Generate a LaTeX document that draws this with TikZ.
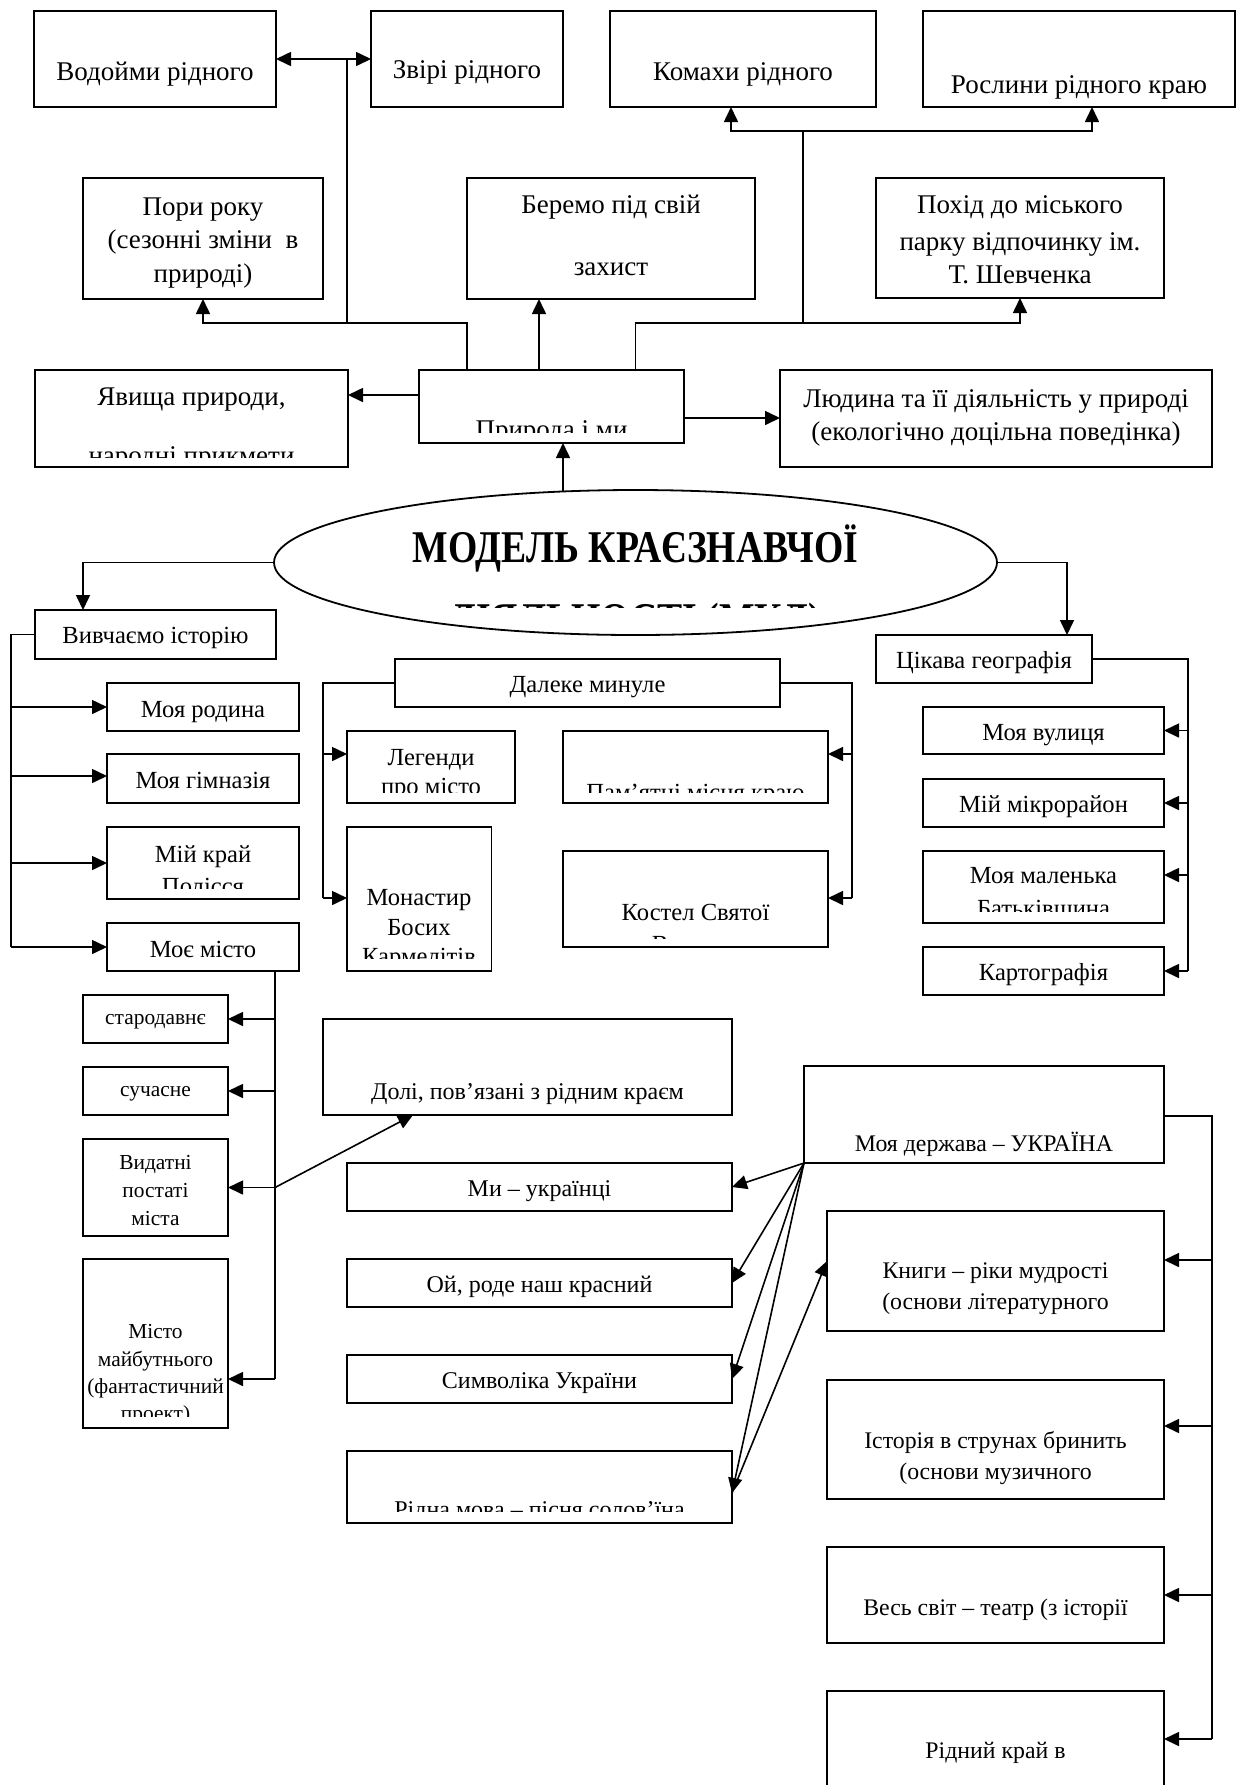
\documentclass[tikz,border=0pt]{standalone}
\usepackage{fontspec}
\usepackage{graphicx}
\setmainfont{Liberation Serif}
\usetikzlibrary{arrows.meta,shapes.geometric}
\newcommand\bx[5]{\node[box, minimum width={(#4-#2)*0.5pt}, minimum height={(#5-#3)*0.5pt}] (#1) at ({(#2+#4)/2},{(#3+#5)/2}) {};}
\newcommand\tx[5]{\node[#1] (#2) at (#3,#4) {#5};}
\newcommand\tcx[6]{\begin{scope}\clip ({#3-420},{#4-80}) rectangle ({#3+420},#5);\node[#1] (#2) at (#3,#4) {#6};\end{scope}}
\begin{document}
\begin{tikzpicture}[x=0.5pt,y=-0.5pt,
 box/.style={draw, line width=0.9pt, inner sep=0pt, outer sep=0pt},
 ln/.style={line width=0.8pt},
 arr/.style={ln,-{Triangle[length=7.5pt,width=7pt]}},
 darr/.style={ln,{Triangle[length=7.5pt,width=7pt]}-{Triangle[length=7.5pt,width=7pt]}},
 tt/.style={inner sep=0pt, anchor=base},
 fa/.style={tt, font=\fontsize{13.5}{16}\selectfont},
 fb/.style={tt, font=\fontsize{12.3}{15}\selectfont},
 fc/.style={tt, font=\fontsize{12}{14}\selectfont},
 fd/.style={tt, font=\fontsize{10.7}{13}\selectfont},
 fe/.style={tt, font=\fontsize{11.9}{14}\selectfont},
 ttl/.style={tt, font=\bfseries\fontsize{22.7}{27}\selectfont},
]
\fill[white] (0,0) rectangle (1240,1785);
\useasboundingbox (0,0) rectangle (1240,1785);
\clip (0,0) rectangle (1240,1785);

% ---------- boxes ----------
\bx{vod}{34}{11}{276}{107}
\bx{zvir}{371}{11}{563}{107}
\bx{kom}{610}{11}{876}{107}
\bx{rosl}{923}{11}{1235}{107}
\bx{pori}{83}{178}{323}{299}
\bx{ber}{467}{178}{755}{299}
\bx{poh}{876}{178}{1164}{298}
\bx{yav}{35}{370}{348}{467}
\bx{prm}{419}{370}{684}{443}
\bx{lud}{780}{370}{1212}{467}
\node[draw, ellipse, line width=0.9pt, inner sep=0pt, outer sep=0pt, minimum width=361.5pt, minimum height=72.5pt] (ell) at (635.5,562.5) {};
\bx{viv}{35}{610}{276}{659}
\bx{rod}{107}{683}{299}{731}
\bx{gim}{107}{754}{299}{803}
\bx{kray}{107}{827}{299}{899}
\bx{misto}{107}{923}{299}{971}
\bx{dal}{395}{659}{780}{707}
\bx{leg}{347}{731}{515}{803}
\bx{mon}{347}{827}{491.5}{971}
\bx{pam}{563}{731}{828}{803}
\bx{kos}{563}{851}{828}{947}
\bx{cik}{876}{635}{1092}{683}
\bx{vul}{923}{707}{1164}{754}
\bx{mikr}{923}{779}{1164}{827}
\bx{mal}{923}{851}{1164}{923}
\bx{kart}{923}{947}{1164}{995}
\bx{star}{83}{995}{228}{1043}
\bx{such}{83}{1067}{228}{1115}
\bx{vyd}{83}{1139}{228}{1236}
\bx{mayb}{83}{1259}{228}{1428}
\bx{doli}{323}{1019}{732}{1115}
\bx{mu}{347}{1163}{732}{1211}
\bx{oy}{347}{1259}{732}{1307}
\bx{sym}{347}{1355}{732}{1403}
\bx{ridm}{347}{1451}{732}{1523}
\bx{md}{804}{1066}{1164}{1163}
\bx{kny}{827}{1211}{1164}{1331}
\bx{ist}{827}{1380}{1164}{1499}
\bx{ves}{827}{1547}{1164}{1643}
\bx{ridk}{827}{1691}{1164}{1810}

% ---------- texts ----------
\tx{fa}{vod-t}{155}{80}{Водойми рідного}
\tx{fa}{zvir-t}{467}{78.5}{Звірі рідного}
\tx{fa}{kom-t}{743}{80}{Комахи рідного}
\tx{fa}{rosl-t}{1079}{93}{Рослини рідного краю}
\tx{fa}{pori-t1}{203}{215}{Пори року}
\tx{fa}{pori-t2}{203}{248}{(сезонні зміни\ \ в}
\tx{fa}{pori-t3}{203}{282}{природі)}
\tx{fa}{ber-t1}{611}{213}{Беремо під свій}
\tx{fa}{ber-t2}{611}{275}{захист}
\tx{fa}{poh-t1}{1020}{213}{Похід до міського}
\tx{fa}{poh-t2}{1020}{250}{парку відпочинку ім.}
\tx{fa}{poh-t3}{1020}{283}{Т. Шевченка}
\tx{fa}{yav-t1}{191.5}{405}{Явища природи,}
\tcx{fa}{yav-t2}{191.5}{464.5}{457}{народні прикмети}
\tcx{fa}{prm-t}{551.5}{438}{432.5}{Природа і ми}
\tx{fa}{lud-t1}{996}{407}{Людина та її діяльність у природі}
\tx{fa}{lud-t2}{996}{440}{(екологічно доцільна поведінка)}

\tx{ttl}{ell-t1}{635.5}{562}{\scalebox{0.83}[1]{МОДЕЛЬ КРАЄЗНАВЧОЇ}}
\tcx{ttl}{ell-t2}{635.5}{634}{607.5}{\scalebox{0.83}[1]{ДІЯЛЬНОСТІ (МКД)}}

\tx{fb}{viv-t}{155.5}{643}{Вивчаємо історію}
\tx{fb}{rod-t}{203}{717}{Моя родина}
\tx{fb}{gim-t}{203}{788}{Моя гімназія}
\tx{fb}{kray-t1}{203}{862}{Мій край}
\tcx{fb}{kray-t2}{203}{894.5}{888}{Полісся}
\tx{fb}{misto-t}{203}{957}{Моє місто}
\tx{fb}{dal-t}{587.5}{692}{Далеке минуле}
\tx{fb}{leg-t1}{431}{765}{Легенди}
\tcx{fb}{leg-t2}{431}{794}{792}{про місто}
\tx{fb}{mon-t1}{419}{905}{Монастир}
\tx{fb}{mon-t2}{419}{935}{Босих}
\tcx{fb}{mon-t3}{419}{964}{958}{Кармелітів}
\tcx{fb}{pam-t}{695.5}{800}{792}{Пам’ятні місця краю}
\tx{fb}{kos-t1}{695.5}{920}{Костел Святої}
\tcx{fb}{kos-t2}{695.5}{952}{938.5}{Варвари}
\tx{fb}{cik-t}{984}{668}{Цікава географія}
\tx{fb}{vul-t}{1043.5}{740}{Моя вулиця}
\tx{fb}{mikr-t}{1043.5}{812}{Мій мікрорайон}
\tx{fb}{mal-t1}{1043.5}{883}{Моя маленька}
\tcx{fb}{mal-t2}{1043.5}{916.5}{911.5}{Батьківщина}
\tx{fb}{kart-t}{1043.5}{980}{Картографія}

\tx{fd}{star-t}{155.5}{1024}{стародавнє}
\tx{fd}{such-t}{155.5}{1096}{сучасне}
\tx{fd}{vyd-t1}{155.5}{1169}{Видатні}
\tx{fd}{vyd-t2}{155.5}{1197}{постаті}
\tx{fd}{vyd-t3}{155.5}{1225}{міста}
\tx{fd}{mayb-t1}{155.5}{1338}{Місто}
\tx{fd}{mayb-t2}{155.5}{1366}{майбутнього}
\tx{fd}{mayb-t3}{155.5}{1393}{(фантастичний}
\tcx{fd}{mayb-t4}{155.5}{1420}{1416.7}{проект)}

\tx{fc}{doli-t}{527.5}{1099}{Долі, пов’язані з рідним краєм}
\tx{fc}{mu-t}{539.5}{1196.5}{Ми – українці}
\tx{fc}{oy-t}{539.5}{1292}{Ой, роде наш красний}
\tx{fc}{sym-t}{539.5}{1388}{Символіка України}
\tcx{fc}{ridm-t}{539.5}{1517}{1511.7}{Рідна мова – пісня солов’їна}

\tx{fe}{md-t}{984}{1151}{Моя держава – УКРАЇНА}
\tx{fe}{kny-t1}{995.5}{1278}{Книги – ріки мудрості}
\tx{fe}{kny-t2}{995.5}{1309}{(основи літературного}
\tx{fe}{ist-t1}{995.5}{1448}{Історія в струнах бринить}
\tx{fe}{ist-t2}{995.5}{1479}{(основи музичного}
\tx{fe}{ves-t}{995.5}{1615}{Весь світ – театр (з історії}
\tx{fe}{ridk-t}{995.5}{1758}{Рідний край в}

% ---------- connectors: top ----------
\draw[darr] (vod.east) -- (zvir.west);
\coordinate (j1) at (347,59);
\coordinate (j2) at (347,323);
\draw[ln] (j1) -- (j2);
\coordinate (p1) at (467,370);
\draw[arr] (p1) -- (467,323) -- (pori.south |- j2) -- (pori.south);
\coordinate (b1) at (539,370);
\draw[arr] (b1) -- (b1 |- ber.south);
\coordinate (p2) at (635.5,370);
\coordinate (j3) at (635.5,323);
\draw[arr] (p2) -- (j3) -- (poh.south |- j3) -- (poh.south);
\coordinate (j4) at (803,323);
\coordinate (j5) at (803,131);
\draw[ln] (j4) -- (j5);
\coordinate (k1) at (731,131);
\coordinate (k2) at (1092,131);
\draw[arr] (j5) -- (k1) -- (k1 |- kom.south);
\draw[arr] (j5) -- (k2) -- (k2 |- rosl.south);
\coordinate (p3) at (419,395);
\draw[arr] (p3) -- (p3 -| yav.east);
\coordinate (p4) at (684,418);
\draw[arr] (p4) -- (p4 -| lud.west);
\coordinate (e1) at (563,491);
\draw[arr] (e1) -- (e1 |- prm.south);
\coordinate (e2) at (83,562.5);
\draw[arr] (ell.west) -- (e2) -- (e2 |- viv.north);
\coordinate (e3) at (1067,562.5);
\draw[arr] (ell.east) -- (e3) -- (e3 |- cik.north);

% ---------- left column ----------
\coordinate (v1) at (11,634.5);
\coordinate (v2) at (11,947);
\draw[ln] (viv.west) -- (v1) -- (v2);
\draw[arr] (v1 |- rod.west) -- (rod.west);
\draw[arr] (11,776) -- (107,776);
\draw[arr] (v1 |- kray.west) -- (kray.west);
\draw[arr] (v2) -- (misto.west);

\coordinate (m1) at (275,971);
\coordinate (m2) at (275,1379);
\draw[ln] (m1) -- (m2);
\draw[arr] (m1 |- star.east) -- (star.east);
\draw[arr] (m1 |- such.east) -- (such.east);
\draw[arr] (m1 |- vyd.east) -- (vyd.east);
\draw[arr] (m2) -- (m2 -| mayb.east);
\coordinate (d1) at (413,1115);
\draw[arr] (m1 |- vyd.east) -- (d1);

% ---------- Далеке минуле ----------
\coordinate (dl) at (323,683);
\coordinate (dl2) at (323,754);
\coordinate (dl3) at (323,898);
\draw[ln] (dal.west) -- (dl) -- (dl3);
\draw[arr] (dl2) -- (dl2 -| leg.west);
\draw[arr] (dl3) -- (dl3 -| mon.west);
\coordinate (dr) at (852,683);
\coordinate (dr2) at (852,754);
\coordinate (dr3) at (852,898);
\draw[ln] (dal.east) -- (dr) -- (dr3);
\draw[arr] (dr2) -- (dr2 -| pam.east);
\draw[arr] (dr3) -- (dr3 -| kos.east);

% ---------- Цікава географія ----------
\coordinate (c1) at (1188,659);
\coordinate (c5) at (1188,971);
\draw[ln] (cik.east) -- (c1) -- (c5);
\draw[arr] (c1 |- vul.east) -- (vul.east);
\draw[arr] (c1 |- mikr.east) -- (mikr.east);
\draw[arr] (1188,875) -- (1164,875);
\draw[arr] (c5) -- (c5 -| kart.east);

% ---------- Моя держава ----------
\coordinate (r1) at (1212,1116);
\coordinate (r5) at (1212,1739);
\draw[ln] (md.east |- r1) -- (r1) -- (r5);
\draw[arr] (1212,1260) -- (1164,1260);
\draw[arr] (1212,1426) -- (1164,1426);
\draw[arr] (r1 |- ves.east) -- (ves.east);
\draw[arr] (r5) -- (1164,1739);

\draw[arr] (md.south west) -- (mu.east);
\draw[arr] (md.south west) -- (oy.east);
\draw[arr] (md.south west) -- (sym.east);
\coordinate (rm) at (732,1493);
\draw[arr] (md.south west) -- (rm);
\coordinate (kn) at (827,1261);
\draw[arr] (rm) -- (kn);
\end{tikzpicture}
\end{document}
